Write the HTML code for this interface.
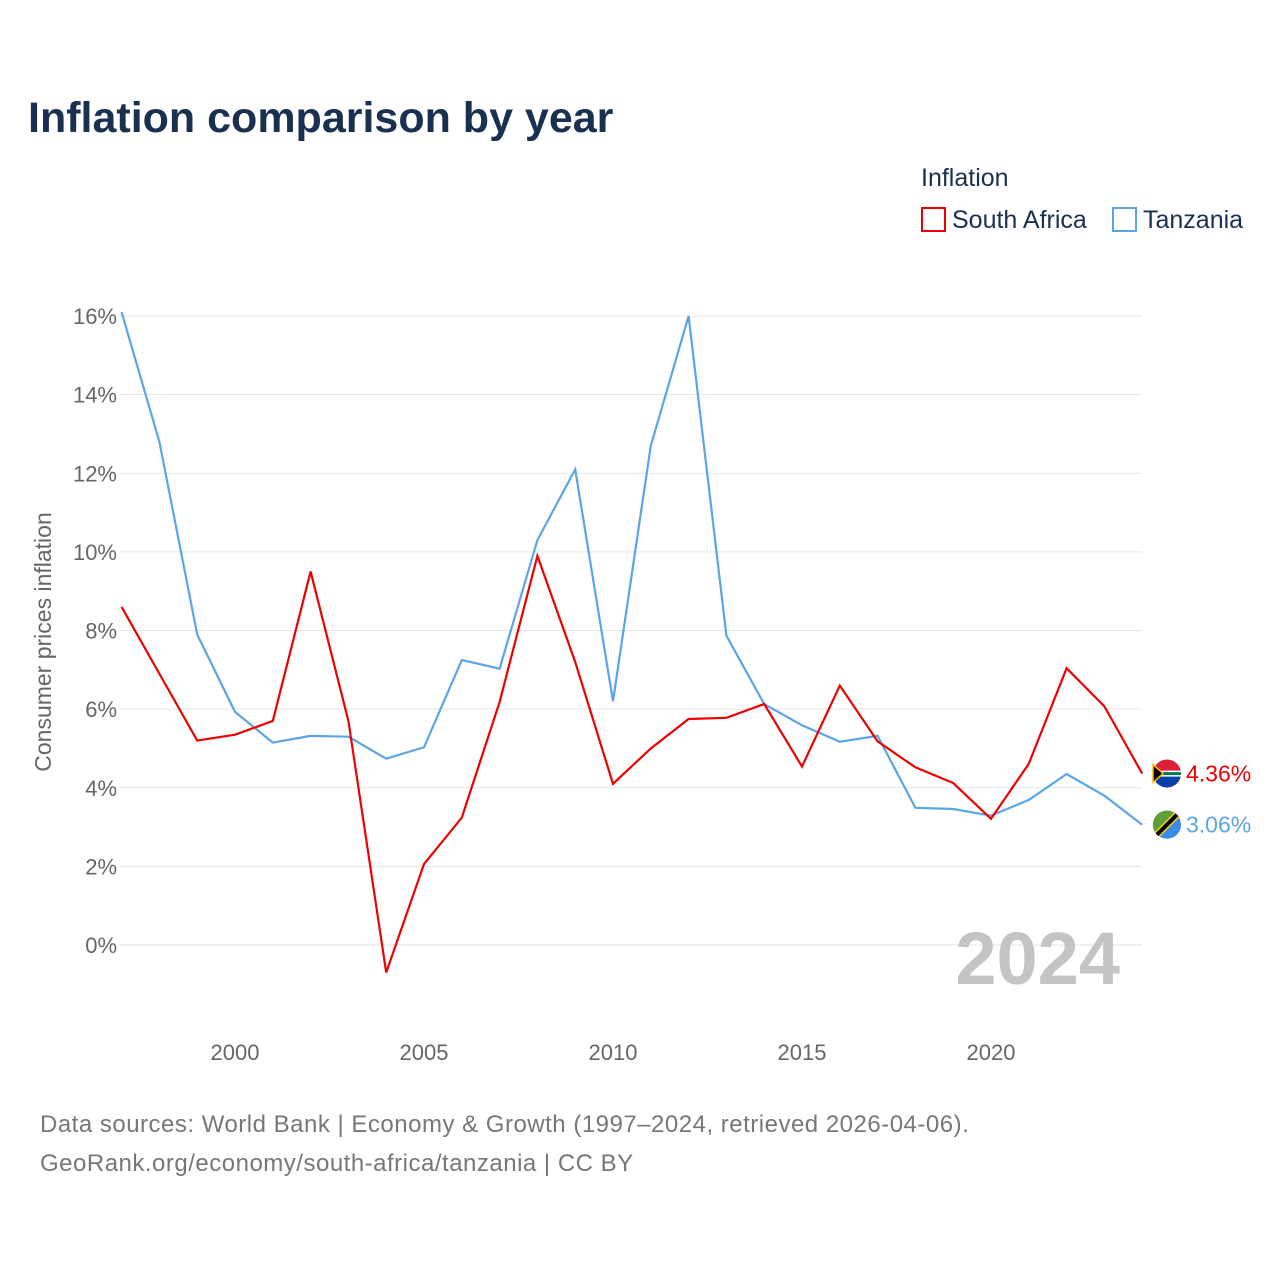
<!DOCTYPE html>
<html><head><meta charset="utf-8"><style>
body{margin:0;background:#fff;font-family:"Liberation Sans",sans-serif}
svg text{font-family:"Liberation Sans",sans-serif}
</style></head><body>
<svg id="chart" width="1280" height="1280" viewBox="0 0 1280 1280">
<text x="28" y="132" font-size="43" font-weight="bold" fill="#1a3050">Inflation comparison by year</text>
<text x="921" y="186" font-size="25" fill="#1a3050">Inflation</text>
<g>
<rect x="922" y="208" width="23" height="23" fill="none" stroke="#ee0000" stroke-width="2"/>
<text x="952" y="228" font-size="25" fill="#1a3050">South Africa</text></g>
<g>
<rect x="1113" y="208" width="23" height="23" fill="none" stroke="#5aa5e8" stroke-width="2"/>
<text x="1143" y="228" font-size="25" fill="#1a3050">Tanzania</text></g>
<text transform="translate(51,642) rotate(-90)" text-anchor="middle" font-size="23" fill="#666">Consumer prices inflation</text>
<g id="grid"></g><g id="xt"></g><g id="lines"></g>
<text x="1120" y="984" text-anchor="end" font-size="74" font-weight="bold" fill="#c4c4c4">2024</text>
<text x="40" y="1132" font-size="24" fill="#777" letter-spacing="0.5">Data sources: World Bank | Economy &amp; Growth (1997–2024, retrieved 2026-04-06).</text>
<text x="40" y="1171" font-size="24" fill="#777" letter-spacing="0.5">GeoRank.org/economy/south-africa/tanzania | CC BY</text>
</svg>
<script>
const years=[1997,1998,1999,2000,2001,2002,2003,2004,2005,2006,2007,2008,2009,2010,2011,2012,2013,2014,2015,2016,2017,2018,2019,2020,2021,2022,2023,2024];
const southAfrica=[8.6,6.9,5.2,5.35,5.7,9.5,5.7,-0.7,2.06,3.24,6.18,9.9,7.2,4.1,5.0,5.75,5.78,6.13,4.54,6.6,5.18,4.52,4.12,3.21,4.61,7.04,6.07,4.36];
const tanzania=[16.1,12.8,7.9,5.93,5.15,5.32,5.3,4.74,5.03,7.25,7.03,10.3,12.1,6.2,12.7,16.0,7.87,6.13,5.59,5.17,5.32,3.49,3.46,3.29,3.69,4.35,3.8,3.06];
const yTicks=[0,2,4,6,8,10,12,14,16];
const xTicks=[2000,2005,2010,2015,2020];
const NS="http://www.w3.org/2000/svg";
const X=y=>121.6+(y-1997)*37.8;
const Y=v=>945-v*39.31;
function mk(t,a,p){const e=document.createElementNS(NS,t);for(const k in a)e.setAttribute(k,a[k]);p.appendChild(e);return e;}
const g=document.getElementById('grid');
yTicks.forEach(v=>{
 const l=mk('line',{x1:120,x2:1142,y1:Y(v),y2:Y(v),stroke:'#e6e6e6','stroke-width':1},g);
 
 
 const t=mk('text',{x:117,y:Y(v)+8,'text-anchor':'end','font-size':22,fill:'#666'},g);
 t.textContent=v+'%';
 
 
});
const xt=document.getElementById('xt');
xTicks.forEach(v=>{
 const t=mk('text',{x:X(v),y:1060,'text-anchor':'middle','font-size':22,fill:'#666'},xt);
 t.textContent=v;
 
 
});
const L=document.getElementById('lines');
function series(vals,col,name,flag){
 const p=mk('polyline',{points:vals.map((v,i)=>X(years[i])+','+Y(v)).join(' '),fill:'none',stroke:col,'stroke-width':2.2},L);
 
 
 const last=vals[vals.length-1],ly=Y(last);
 const c=mk('g',{},L);
 
 
 const cx=1167,cy=ly;
 if(flag==='za'){
  mk('circle',{cx,cy,r:14,fill:'#0a3fa8'},c);
  mk('path',{d:`M${cx-14},${cy} A14,14 0 0 1 ${cx+14},${cy}Z`,fill:'#e0203a'},c);
  mk('rect',{x:cx-14,y:cy-3,width:28,height:6,fill:'#fff'},c);
  mk('rect',{x:cx-14,y:cy-1.5,width:28,height:3,fill:'#007a4d'},c);
  mk('path',{d:`M${cx-14},${cy-9} L${cx-4},${cy} L${cx-14},${cy+9}Z`,fill:'#000',stroke:'#ffb612','stroke-width':1.5},c);
 } else {
  mk('circle',{cx,cy,r:14,fill:'#3a8ae8'},c);
  mk('path',{d:`M${cx-10},${cy+10} A14,14 0 0 1 ${cx+10},${cy-10}Z`,fill:'#5fa033'},c);
  mk('line',{x1:cx-10,y1:cy+10,x2:cx+10,y2:cy-10,stroke:'#fcd116','stroke-width':7},c);
  mk('line',{x1:cx-10,y1:cy+10,x2:cx+10,y2:cy-10,stroke:'#000','stroke-width':4},c);
 }
 const t=mk('text',{x:1186,y:ly+8,'font-size':23,fill:col},L);
 t.textContent=last.toFixed(2)+'%';
 
 
}
series(tanzania,'#5aa5e8','tanzania','tz');
series(southAfrica,'#ee0000','south-africa','za');
</script>
</body></html>
